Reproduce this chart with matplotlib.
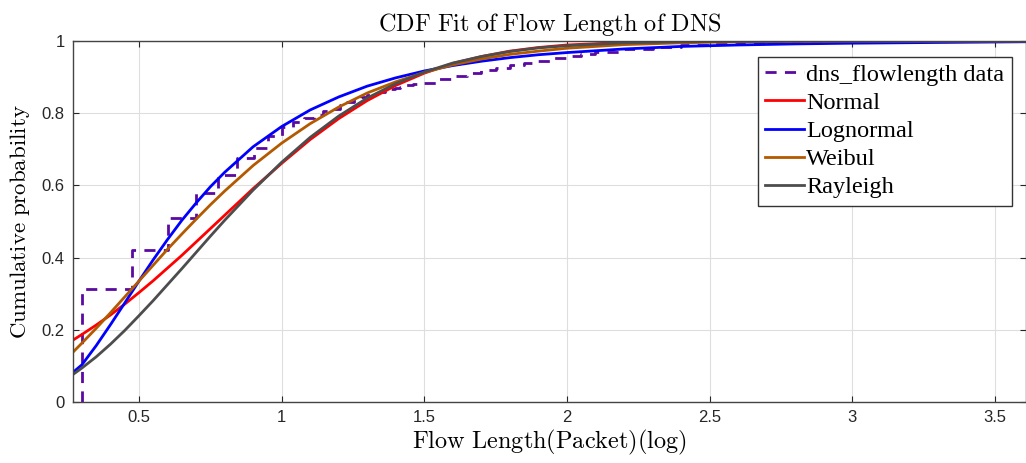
import matplotlib
matplotlib.use('Agg')
import matplotlib.pyplot as plt
from matplotlib import font_manager
import numpy as np

# ecdf of the data (x = log10 of flow length in packets)
data_x = [0.301, 0.301, 0.477, 0.602, 0.699, 0.778, 0.845, 0.903, 0.954, 1.0,
          1.041, 1.079, 1.114, 1.146, 1.176, 1.204, 1.230, 1.255, 1.279, 1.301,
          1.322, 1.342, 1.362, 1.380, 1.398, 1.415, 1.431, 1.447, 1.462, 1.477,
          1.50, 1.55, 1.60, 1.65, 1.70, 1.75, 1.80, 1.85, 1.90, 1.95, 2.00,
          2.05, 2.10, 2.20, 2.30, 2.40, 2.50, 2.60, 2.70, 2.80, 3.00, 3.20, 3.50]
data_y = [0.0, 0.314, 0.421, 0.509, 0.580, 0.629, 0.677, 0.704, 0.737, 0.763,
          0.776, 0.786, 0.795, 0.805, 0.813, 0.822, 0.832, 0.838, 0.846, 0.851,
          0.855, 0.860, 0.864, 0.868, 0.871, 0.874, 0.877, 0.879, 0.881, 0.883,
          0.885, 0.894, 0.904, 0.912, 0.919, 0.926, 0.933, 0.939, 0.946, 0.952, 0.958,
          0.965, 0.970, 0.977, 0.983, 0.988, 0.991, 0.994, 0.996, 0.997, 0.998, 0.999, 1.0]

# fitted cdf curves
fit_x = [0.27, 0.30, 0.35, 0.40, 0.45, 0.50, 0.55, 0.60, 0.65, 0.70, 0.75, 0.80,
         0.90, 1.0, 1.1, 1.2, 1.3, 1.4, 1.5, 1.6, 1.7, 1.8, 1.9, 2.0,
         2.2, 2.4, 2.6, 2.8, 3.0, 3.3, 3.62]
normal = [0.172, 0.187, 0.213, 0.241, 0.271, 0.303, 0.336, 0.371, 0.406, 0.443, 0.480, 0.517,
          0.591, 0.661, 0.727, 0.785, 0.835, 0.877, 0.911, 0.938, 0.957, 0.972, 0.982, 0.989,
          0.996, 0.999, 1.0, 1.0, 1.0, 1.0, 1.0]
lognormal = [0.083, 0.103, 0.156, 0.214, 0.274, 0.335, 0.394, 0.450, 0.503, 0.551, 0.596, 0.636,
             0.707, 0.763, 0.809, 0.845, 0.875, 0.898, 0.917, 0.932, 0.944, 0.954, 0.962, 0.968,
             0.978, 0.985, 0.989, 0.992, 0.994, 0.996, 0.998]
weibull = [0.139, 0.163, 0.204, 0.247, 0.291, 0.335, 0.379, 0.423, 0.465, 0.506, 0.546, 0.584,
           0.655, 0.717, 0.771, 0.817, 0.856, 0.887, 0.913, 0.934, 0.950, 0.963, 0.972, 0.980,
           0.990, 0.995, 0.998, 0.999, 1.0, 1.0, 1.0]
rayleigh = [0.077, 0.094, 0.125, 0.160, 0.198, 0.239, 0.281, 0.325, 0.369, 0.414, 0.459, 0.503,
            0.587, 0.664, 0.733, 0.792, 0.842, 0.882, 0.914, 0.939, 0.957, 0.971, 0.981, 0.987,
            0.995, 0.998, 0.999, 1.0, 1.0, 1.0, 1.0]

x_ticks = [0.5, 1, 1.5, 2, 2.5, 3, 3.5]
y_ticks = [0, 0.2, 0.4, 0.6, 0.8, 1]

names = [f.name for f in font_manager.fontManager.ttflist]
tick_font = 'Liberation Sans Narrow' if 'Liberation Sans Narrow' in names else 'Liberation Sans'

plt.rcParams['mathtext.fontset'] = 'cm'

fig = plt.figure(figsize=(10.26, 4.63), dpi=100)
ax = fig.add_axes([0.0712, 0.1318, 0.9288, 0.7796])

ax.grid(True, color='#dedede', linewidth=0.8)
ax.set_axisbelow(True)

ax.step(data_x, data_y, where='post', color='#5a0aa0', linewidth=2,
        linestyle=(0, (4, 3)), label='dns_flowlength data')
ax.plot(fit_x, normal, color='#ff0000', linewidth=2, label='Normal')
ax.plot(fit_x, lognormal, color='#0000ff', linewidth=2, label='Lognormal')
ax.plot(fit_x, weibull, color='#b35a00', linewidth=2, label='Weibul')
ax.plot(fit_x, rayleigh, color='#4d4d4d', linewidth=2, label='Rayleigh')

ax.set_xlim(0.269, 3.609)
ax.set_ylim(0, 1)
ax.set_xticks(x_ticks)
ax.set_xticklabels(['0.5', '1', '1.5', '2', '2.5', '3', '3.5'])
ax.set_yticks(y_ticks)
ax.set_yticklabels(['0', '0.2', '0.4', '0.6', '0.8', '1'])
ax.tick_params(direction='in', length=4, top=True, right=True, labelsize=12,
               colors='#262626', pad=6)
for lab in ax.get_xticklabels() + ax.get_yticklabels():
    lab.set_fontfamily(tick_font)
for sp in ax.spines.values():
    sp.set_color('#444444')
    sp.set_linewidth(1.0)

ax.set_title(r'$\mathrm{CDF\ Fit\ of\ Flow\ Length\ of\ DNS}$', fontsize=17.5, pad=7)
ax.set_xlabel(r'$\mathrm{Flow\ Length(Packet)(log)}$', fontsize=17.5, labelpad=2)
ax.set_ylabel(r'$\mathrm{Cumulative\ probability}$', fontsize=16.5, labelpad=7)

leg = ax.legend(loc='upper right', bbox_to_anchor=(0.985, 0.957),
                prop={'family': 'Liberation Serif', 'size': 17.5},
                handlelength=1.6, handletextpad=0.1, labelspacing=0.25,
                borderpad=0.3, borderaxespad=0, fancybox=False, framealpha=1)
leg.get_frame().set_edgecolor('#333333')
leg.get_frame().set_linewidth(1.0)

fig.savefig('out.png', dpi=100)
